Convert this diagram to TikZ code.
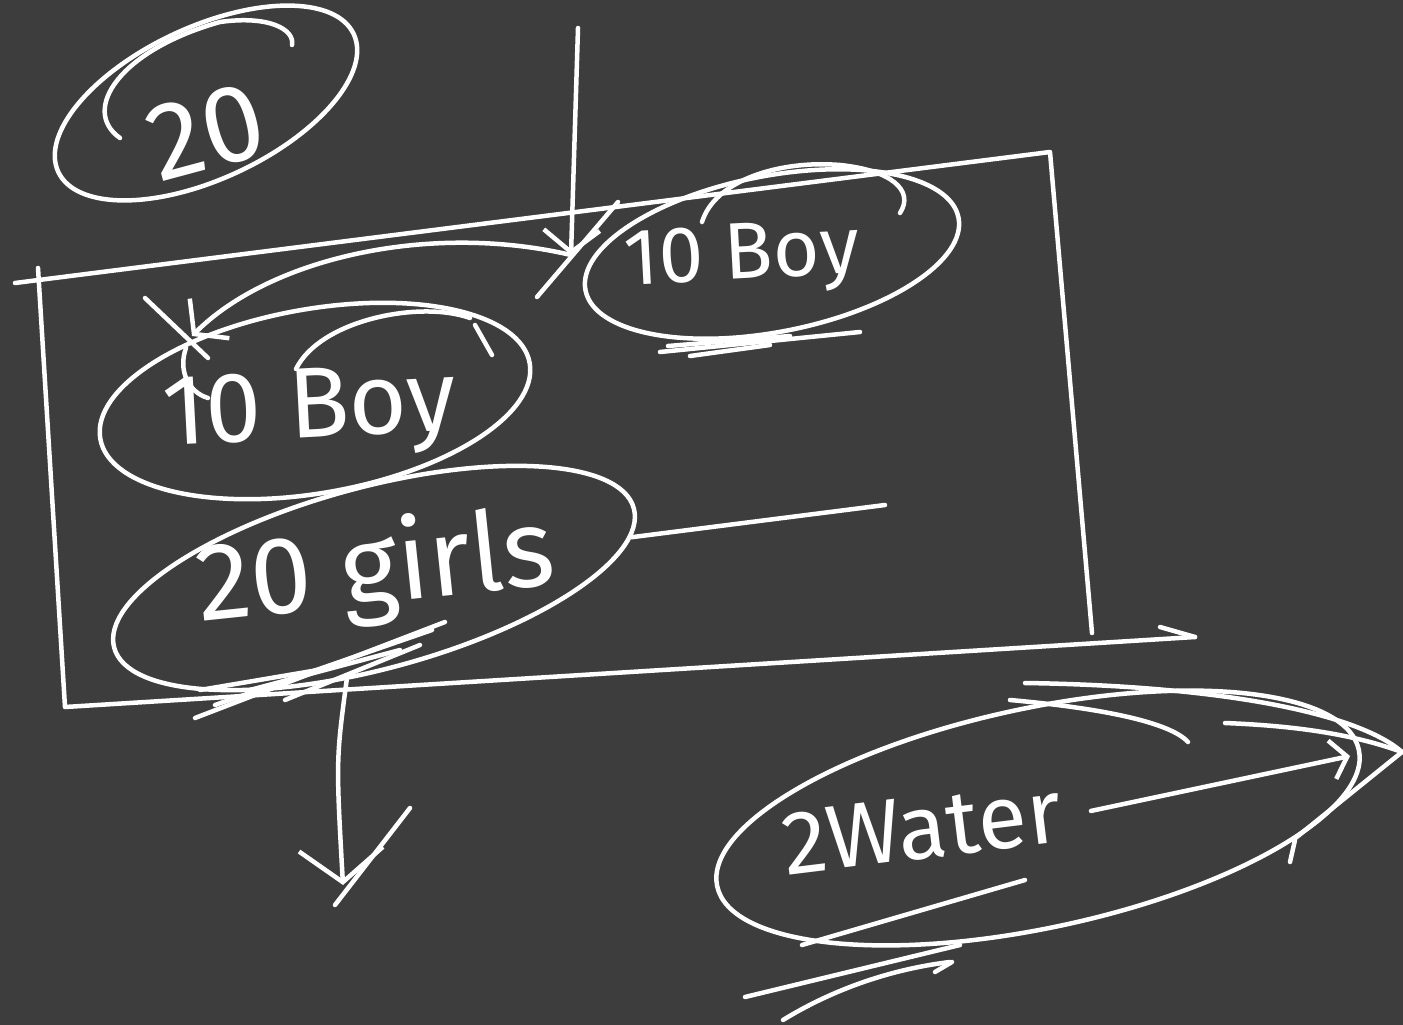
\documentclass[tikz,border=0pt]{standalone}
\usepackage{fontspec}
\setmainfont{Fira Sans}
\usetikzlibrary{shapes.geometric,arrows.meta}
\definecolor{board}{RGB}{61,61,61}
\tikzset{
  chalk/.style={draw=white,line width=4.5pt,line cap=round,line join=round},
  blob/.style={chalk,ellipse,inner sep=0pt},
  scrawl/.style={text=white,inner sep=0pt},
  pointer/.style={chalk,-{Straight Barb[length=22pt,width=56pt,scale=#1]}},
  pointer/.default=1,
}
\begin{document}
\begin{tikzpicture}[x=1pt,y=-1pt]
  \fill[board] (0,0) rectangle (1403,1025);
  \useasboundingbox (0,0) rectangle (1403,1025);

  \node[blob,minimum width=326pt,minimum height=152pt,rotate=25] (total) at (206,103) {};
  \node[scrawl,font=\fontsize{110}{120}\selectfont,rotate=15] (totaltext) at (206,132) {20};

  \node[blob,minimum width=380pt,minimum height=156pt,rotate=11] (boyB) at (772,254) {};
  \node[scrawl,font=\fontsize{80}{90}\selectfont,rotate=3] (boyBtext) at (742,260) {10 Boy};

  \node[blob,minimum width=436pt,minimum height=184pt,rotate=10] (boyA) at (315,401) {};
  \node[scrawl,font=\fontsize{100}{110}\selectfont,rotate=3] (boyAtext) at (310,414) {10 Boy};

  \node[blob,minimum width=538pt,minimum height=182pt,rotate=15] (girls) at (374,578) {};
  \node[scrawl,font=\fontsize{110}{120}\selectfont,rotate=6] (girlstext) at (376,572) {20 girls};

  \node[blob,minimum width=656pt,minimum height=220pt,rotate=12] (water) at (1038,818) {};
  \node[scrawl,font=\fontsize{90}{100}\selectfont,rotate=7] (watertext) at (922,828) {2Water};

  \draw[chalk] (15,283) -- (1050,152) -- (1092,633);
  \draw[chalk] (1195,637) -- (65,707) -- (38,268);
  \draw[chalk] (1160,627) -- (1195,637);

  \coordinate (tip) at (571,255);
  \coordinate (hit) at (192,336);
  \coordinate (drop) at (343,885);
  \coordinate (stub) at (885,505);
  \coordinate (rim) at (1350,756);

  \draw[pointer] (578,28) -- (tip);
  \draw[pointer] (tip) .. controls (430,222) and (270,258) .. (hit);
  \draw[pointer=1.5] (girls.240) .. controls (336,760) .. (drop);
  \draw[chalk] (girls.-6) -- (stub);
  \draw[pointer=0.7] ([xshift=30pt]watertext.east) -- (rim);

  \draw[chalk] (537,297) -- (618,202);
  \draw[chalk] (145,298) -- (208,358);
  \draw[chalk] (186,348) .. controls (178,370) and (188,392) .. (208,398);
  \draw[chalk] (410,808) -- (335,905);

  \draw[chalk] (120,138) .. controls (80,110) and (120,50) .. (220,22) .. controls (270,15) and (295,30) .. (292,45);
  \draw[chalk] (702,222) .. controls (715,180) and (780,160) .. (840,165) .. controls (890,170) and (915,190) .. (900,213);
  \draw[chalk] (296,369) .. controls (320,320) and (420,300) .. (470,318);
  \draw[chalk] (475,325) -- (492,355);

  \foreach \a/\b/\c/\d in {660/352/860/332, 668/346/790/336, 690/356/770/345}
    \draw[chalk] (\a,\b) -- (\c,\d);
  \foreach \a/\b/\c/\d in {195/718/445/622, 215/705/432/630, 250/690/400/650, 285/700/420/645, 200/690/330/668}
    \draw[chalk] (\a,\b) -- (\c,\d);

  \draw[chalk] (1025,683) .. controls (1230,686) and (1360,715) .. (1402,752) -- (1293,840);
  \draw[chalk] (1295,840) -- (1290,862);
  \draw[chalk] (1010,700) .. controls (1100,708) and (1170,722) .. (1188,742);
  \draw[chalk] (1225,723) .. controls (1300,726) and (1355,735) .. (1402,752);
  \draw[chalk] (802,945) -- (1025,880);
  \draw[chalk] (745,997) -- (960,945);
  \draw[chalk] (783,1020) .. controls (840,985) and (900,968) .. (950,962);
  \draw[chalk] (935,972) -- (952,962);
\end{tikzpicture}
\end{document}
